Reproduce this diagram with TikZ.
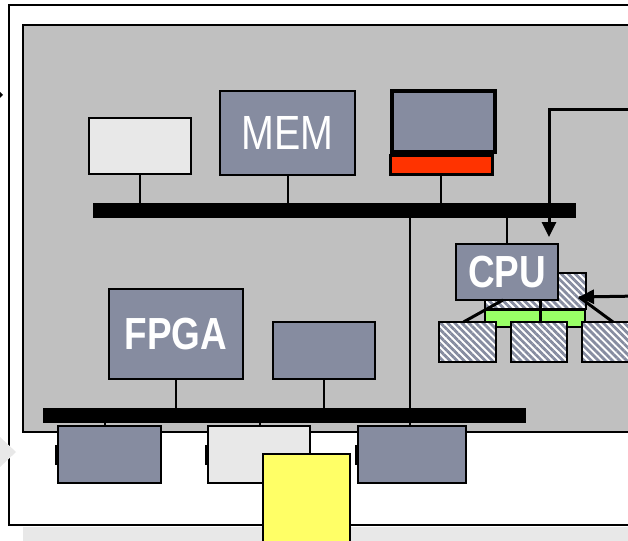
\documentclass[tikz,border=0pt]{standalone}
\usepackage{fontspec}
\usetikzlibrary{positioning,arrows.meta,patterns.meta}
\newfontfamily\boxfont[FakeStretch=0.82]{Liberation Sans}
\definecolor{panelgray}{HTML}{C0C0C0}
\definecolor{unitblue}{HTML}{868CA0}
\definecolor{lightbox}{HTML}{E8E8E8}
\definecolor{redbar}{HTML}{FF3300}
\definecolor{yellowbox}{HTML}{FFFF66}
\definecolor{greenbar}{HTML}{99FF66}

\begin{document}
\begin{tikzpicture}[
    x=1pt, y=-1pt,
    unit/.style={
        draw,
        line width=2.5pt,
        inner sep=0pt,
        outer sep=0pt,
        anchor=north west,
        align=center,
        text=white
    },
    blue/.style={unit, fill=unitblue},
    light/.style={unit, fill=lightbox},
    hatch/.style={unit, preaction={fill=white},
        pattern={Lines[angle=-45, distance=5pt, line width=2.8pt]},
        pattern color=unitblue},
    bus/.style={fill=black, inner sep=0pt, outer sep=0pt, anchor=north west},
    tab/.style={fill=black, inner sep=0pt, minimum width=3pt, minimum height=20pt},
    wire/.style={line width=2pt},
    link/.style={line width=3pt},
    arrow/.style={-{Triangle[length=15pt, width=14pt]}, line width=3pt}
]
\useasboundingbox (0,0) rectangle (628,540);

% ============================================================
% RAHMEN
% ============================================================
\fill[lightbox] (23,527) rectangle (640,545);
\draw[line width=2.5pt, fill=white] (9,5) rectangle (660,525);
\draw[line width=1.5pt, fill=panelgray] (23,25) rectangle (660,432);
\fill[black] (0,92) -- (3,95) -- (0,98) -- cycle;
\fill[lightbox] (0,437) -- (16,452) -- (0,467) -- cycle;

% ============================================================
% OBERER BUS
% ============================================================
\node[bus, minimum width=483pt, minimum height=15pt] (topbus) at (93,203) {};
\node[light, minimum width=102pt, minimum height=56pt] (io) at (89,118) {};
\node[blue, minimum width=135pt, minimum height=84pt,
      font=\boxfont\fontsize{48}{48}\selectfont] (mem) at (220,91) {MEM};
\node[blue, line width=4pt, minimum width=103pt, minimum height=61pt] (pc) at (392,91) {};
\node[unit, fill=redbar, line width=3pt, minimum width=102pt, minimum height=18pt] (red) at (390,156) {};

\draw[wire] (io.south) -- (io.south |- topbus.north);
\draw[wire] (mem.south) -- (mem.south |- topbus.north);
\draw[wire] (red.south) -- (red.south |- topbus.north);

% ============================================================
% CPU-CLUSTER
% ============================================================
\node[hatch, minimum width=101pt, minimum height=36pt] (cache) at (485,273) {};
\node[unit, fill=greenbar, minimum width=100pt, minimum height=17pt] (green) at (485,310) {};
\node[blue, minimum width=102pt, minimum height=56pt,
      font=\boxfont\bfseries\fontsize{45}{45}\selectfont] (cpu) at (456,244) {CPU};
\node[hatch, minimum width=57pt, minimum height=40pt] (memA) at (439,322) {};
\node[hatch, minimum width=56pt, minimum height=40pt] (memB) at (511,322) {};
\node[hatch, minimum width=58pt, minimum height=40pt] (memC) at (582,322) {};

\draw[wire] (cpu.north) -- (cpu.north |- topbus.south);
\draw[link] ([xshift=-4pt]cpu.south) -- ([xshift=-4pt]memA.north);
\draw[link] ([xshift=33pt]cpu.south) -- ([xshift=33pt]cpu.south |- memB.north);

\coordinate (inA) at (640,110);
\coordinate (inB) at (640,296);
\coordinate (tipB) at (579,297);
\draw[arrow] (inA) -| ([xshift=-9pt, yshift=7pt]cpu.north east);
\draw[arrow] (inB) -- (tipB);
\draw[link] (tipB) -- ([xshift=2pt]memC.north);

% ============================================================
% UNTERER BUS
% ============================================================
\node[bus, minimum width=483pt, minimum height=15pt] (botbus) at (43,408) {};
\node[blue, minimum width=134pt, minimum height=90pt,
      font=\boxfont\bfseries\fontsize{45}{45}\selectfont] (fpga) at (109,289) {FPGA};
\node[blue, minimum width=102pt, minimum height=57pt] (dsp) at (273,322) {};

\draw[wire] (fpga.south) -- (fpga.south |- botbus.north);
\draw[wire] (dsp.south) -- (dsp.south |- botbus.north);
\coordinate (bridge) at (topbus.south -| 410,0);
\draw[wire] (bridge) -- (bridge |- botbus.north);

\node[blue, minimum width=103pt, minimum height=57pt] (portA) at (58,426) {};
\node[light, minimum width=102pt, minimum height=57pt] (portB) at (208,426) {};
\node[blue, minimum width=108pt, minimum height=57pt] (portC) at (358,426) {};
\node[tab, anchor=east] at (portA.west) {};
\node[tab, anchor=east] at (portB.west) {};
\node[tab, anchor=east] at (portC.west) {};

\draw[wire] ([xshift=-5pt]portA.north) -- ([xshift=-5pt]portA.north |- botbus.south);
\draw[wire] ([xshift=1pt]portB.north) -- ([xshift=1pt]portB.north |- botbus.south);
\draw[wire] ([xshift=-2pt]portC.north) -- ([xshift=-2pt]portC.north |- botbus.south);

\node[unit, fill=yellowbox, minimum width=87pt, minimum height=95pt] (ext) at (263,454) {};

\end{tikzpicture}
\end{document}
